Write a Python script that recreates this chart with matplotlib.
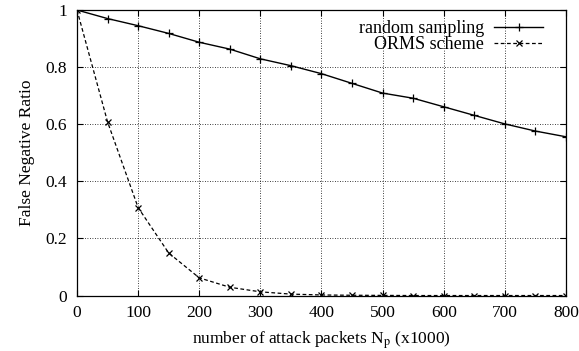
import numpy as np
import matplotlib
matplotlib.use("Agg")
import matplotlib.pyplot as plt

plt.rcParams['font.family'] = ['Liberation Serif', 'DejaVu Serif']
plt.rcParams['mathtext.fontset'] = 'stix'

# attack packets (x1000)
packets = [0, 50, 100, 150, 200, 250, 300, 350, 400, 450, 500, 550, 600, 650, 700, 750, 800]
random_sampling = [1.0, 0.970, 0.945, 0.918, 0.887, 0.863, 0.829, 0.805, 0.777,
                   0.743, 0.709, 0.691, 0.661, 0.631, 0.601, 0.576, 0.556]
orms_scheme = [1.0, 0.608, 0.308, 0.149, 0.062, 0.029, 0.013, 0.005, 0.002,
               0.001, 0.0005, 0.0, 0.0, 0.0, 0.0, 0.0, 0.0]

fig = plt.figure(figsize=(5.79, 3.51), dpi=100)
ax = fig.add_axes([0.133, 0.158, 0.8445, 0.8135])

ax.plot(packets, random_sampling, color='black', lw=1.0, marker='+',
        markersize=6, markeredgewidth=0.9, label='random sampling')
ax.plot(packets, orms_scheme, color='black', lw=0.9, linestyle=(0, (3, 2)),
        marker='x', markersize=5, markeredgewidth=0.9, label='ORMS scheme')

ax.set_xlim(0, 800)
ax.set_ylim(0, 1)
ax.set_xticks(np.arange(0, 801, 100))
ax.set_yticks([0, 0.2, 0.4, 0.6, 0.8, 1.0])
ax.set_yticklabels(['0', '0.2', '0.4', '0.6', '0.8', '1'])
ax.grid(True, color='black', linestyle=(0, (1, 2)), linewidth=0.6)
ax.tick_params(direction='in', top=True, right=True, labelsize=12.5, length=4,
               width=0.8, pad=7)
for s in ax.spines.values():
    s.set_linewidth(0.9)

ax.set_xlabel(r'number of attack packets N$_{\rm p}$ (x1000)', fontsize=12.5, labelpad=6)
ax.set_ylabel('False Negative Ratio', fontsize=12.5, labelpad=8)

leg = ax.legend(loc='upper right', bbox_to_anchor=(0.953, 0.964), frameon=False,
                markerfirst=False, fontsize=13, handlelength=2.7,
                labelspacing=-0.08, borderaxespad=0, borderpad=0,
                handletextpad=0.55)

fig.savefig('out.png', dpi=100)
